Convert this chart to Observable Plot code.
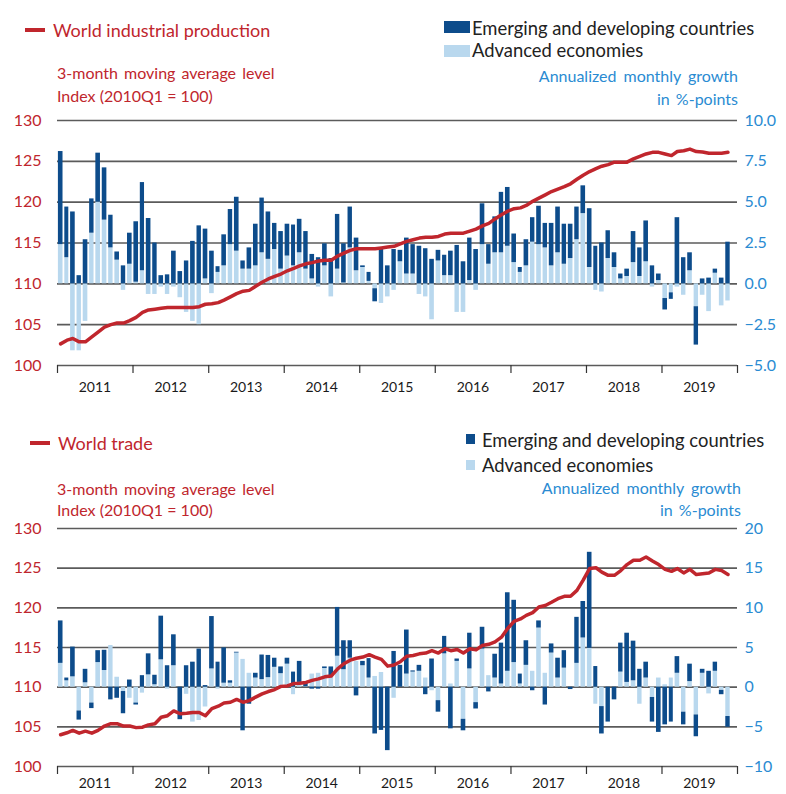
<!DOCTYPE html>
<html><head><meta charset="utf-8">
<script src="https://cdn.jsdelivr.net/npm/d3@7"></script>
<script src="https://cdn.jsdelivr.net/npm/@observablehq/plot@0.6"></script>
<style>
body{margin:0;background:#fff;}
#wrap{position:relative;width:786px;height:794px;font-family:Lato,"Noto Sans",sans-serif;overflow:hidden;}
.t{position:absolute;white-space:nowrap;line-height:20px;height:20px;}
.s{position:absolute;}
.p{position:absolute;left:0;}
</style></head><body><div id="wrap"></div>
<script>
// ---------- DATA ----------
const years = [2011, 2012, 2013, 2014, 2015, 2016, 2017, 2018, 2019];
const seriesNames = ["Advanced economies", "Emerging and developing countries"];

// World industrial production: annualized monthly growth contributions (%-points), Jan 2011 – Nov 2019
const ipAdvanced = [2.4,1.6,-4.1,-4.1,-2.3,3.1,5.0,3.9,2.2,1.45,-0.4,1.2,
0.1,0.8,-0.65,-0.65,-0.2,-0.65,-0.2,-0.85,-1.75,-2.3,-2.5,0.3,
-0.6,0.7,1.1,2.4,2.0,0.9,0.9,1.1,1.9,1.5,2.1,0.9,
1.7,1.1,1.9,0.9,0.3,-0.2,1.1,-0.8,0.9,0.05,2.2,0.8,
1.0,0.15,-0.3,-1.2,-0.8,-0.4,1.35,0.6,0.6,-0.65,-0.8,-2.2,
1.4,0.5,0.5,-1.75,-1.75,0.2,-0.4,2.4,1.2,1.9,1.9,2.3,
1.3,0.7,1.1,2.55,2.4,2.2,1.1,1.9,1.2,1.55,2.7,4.3,
1.0,-0.4,-0.5,1.55,1.0,0.3,0.45,1.3,0.45,1.35,-0.2,0.2,
-0.9,-0.55,-0.2,-0.7,0.8,-1.4,-0.7,-1.7,0.65,-1.35,-1.05];
const ipEmerging = [5.7,3.1,4.4,0.5,2.7,2.1,3.0,3.2,2.0,0.5,1.1,1.9,
3.7,5.4,4.0,2.5,0.5,0.55,2.0,0.75,1.4,2.6,3.55,3.05,
2.0,0.35,1.9,2.15,3.3,0.5,1.3,2.55,3.35,2.9,1.6,2.3,
1.95,2.5,2.05,2.3,1.5,1.6,1.35,1.55,3.35,2.4,2.5,2.0,
0.1,0.55,-0.8,2.2,1.1,2.1,0.7,2.2,1.8,2.3,2.15,1.5,
0.65,1.25,1.5,2.35,1.35,2.6,2.1,2.5,1.2,2.2,3.7,3.6,
1.75,0.3,1.6,1.5,2.35,1.5,2.6,2.8,2.45,2.1,2.0,1.7,
3.6,2.3,2.5,1.7,0.9,0.3,0.45,1.9,1.75,2.5,1.1,0.4,
-0.7,-0.4,4.05,1.6,1.1,-2.35,0.3,0.35,0.25,0.35,2.55];
// 3-month moving average level, index 2010Q1 = 100
const ipLevel = [102.65,103.1,103.3,102.9,102.9,103.5,104.1,104.7,105.0,105.2,105.2,105.5,
105.9,106.5,106.8,106.9,107.0,107.1,107.1,107.1,107.1,107.1,107.2,107.5,
107.55,107.7,108.0,108.4,108.8,109.1,109.2,109.7,110.2,110.6,110.9,111.2,
111.6,111.9,112.2,112.45,112.6,112.8,112.9,112.9,113.4,113.75,114.1,114.3,
114.3,114.3,114.3,114.4,114.5,114.6,114.9,115.2,115.4,115.6,115.7,115.7,
115.8,116.1,116.2,116.2,116.2,116.45,116.7,117.1,117.4,117.95,118.45,118.9,
119.2,119.3,119.6,120.1,120.5,120.9,121.3,121.6,121.9,122.25,122.8,123.3,
123.75,124.1,124.4,124.6,124.9,124.9,124.9,125.3,125.6,125.9,126.1,126.1,
125.9,125.7,126.2,126.3,126.5,126.2,126.15,126.0,126.0,126.0,126.1];

// World trade
const trAdvanced = [3.0,0.8,1.3,-3.0,0.55,-2.0,3.1,2.1,5.25,1.25,-0.55,-1.4,
-2.0,-0.75,1.55,0.3,3.45,-0.25,2.7,0,-0.9,-4.4,-4.2,-2.5,
2.3,-0.25,0.5,0.5,4.3,3.5,1.75,1.15,0.95,1.2,2.5,1.7,
2.9,-0.95,0.6,0.05,1.65,1.75,2.35,1.35,3.9,2.2,3.65,3.25,
2.7,1.15,1.35,1.85,0,-1.4,0,1.65,1.9,2.0,1.15,-0.45,
-1.7,4.2,0.4,3.25,-4.05,2.3,-1.95,4.8,1.45,1.15,0.4,2.0,
3.1,0.4,2.75,2.0,7.45,1.75,4.3,1.15,2.4,0,3.0,6.2,
4.9,-2.15,-2.45,0,0,1.9,0.6,0.8,-2.15,1.15,-1.3,1.15,
0.3,1.15,1.75,-3.15,0.7,-3.5,1.75,-0.85,2.0,-0.4,-3.7];
const trEmerging = [5.35,0.35,3.75,-1.15,1.7,-0.7,1.5,2.55,-1.6,-1.4,-2.8,0.9,
-0.25,1.45,2.65,1.2,5.5,2.7,3.9,-4.1,2.7,3.15,4.8,0.2,
6.6,3.15,4.45,0.3,0.1,-5.5,-2.15,0.6,3.1,2.8,1.15,0.85,
0.75,1.9,2.65,0.6,-0.25,-0.25,0.2,1.2,6.15,3.65,2.2,-1.1,
0.55,2.45,-5.9,-5.45,-8.0,4.5,2.75,5.55,0.15,0.75,-0.95,3.55,
-1.45,2.2,-5.25,0.3,-1.45,4.5,-0.8,2.75,-0.6,3.0,5.15,9.9,
7.85,1.25,3.1,-0.45,0.9,-2.25,1.15,2.5,2.2,-0.3,5.8,4.6,
12.1,2.6,-3.45,-4.4,-1.6,3.65,6.2,5.0,2.25,2.0,-3.1,-5.7,
-4.75,-4.4,2.1,-1.6,2.2,-2.75,0.5,2.0,1.15,-0.55,-1.35];
const trLevel = [104.0,104.25,104.55,104.2,104.45,104.2,104.55,105.1,105.4,105.4,105.1,105.1,
104.9,104.95,105.25,105.4,106.2,106.4,107.0,106.65,106.7,106.8,106.8,106.4,
107.3,107.6,108.0,108.1,108.45,108.1,108.3,108.75,109.15,109.45,109.7,110.1,
110.15,110.45,110.5,110.6,110.85,111.05,111.3,111.4,112.3,112.95,113.4,113.65,
113.8,114.1,113.8,113.5,112.65,112.8,113.2,113.9,114.0,114.2,114.3,114.6,
114.3,114.85,114.6,114.75,114.3,114.85,114.7,115.25,115.4,115.7,116.3,117.4,
118.3,118.6,119.05,119.4,120.1,120.3,120.7,121.15,121.45,121.45,122.2,123.5,
124.95,125.05,124.5,124.1,124.1,124.7,125.45,126.0,126.0,126.4,125.9,125.45,
124.85,124.6,124.95,124.4,124.85,124.2,124.3,124.4,124.85,124.7,124.2];

const ipTicks = [-5, -2.5, 0, 2.5, 5, 7.5, 10];
const trTicks = [-10, -5, 0, 5, 10, 15, 20];

// ---------- STYLE ----------
const RED = "#c0262d", BLUE = "#2a8bd2", DARK = "#0d4c8b", LIGHT = "#b9d8ee";
const FONT = "Lato, 'Noto Sans', sans-serif";
const wrap = document.getElementById("wrap");

const start = new Date(Date.UTC(2011, 0, 1));
const monthDate = i => d3.utcMonth.offset(start, i);
const yearStarts = d3.range(years.length + 1).map(i => new Date(Date.UTC(years[0] + i, 0, 1)));
const midYears = years.map(y => new Date(Date.UTC(y, 6, 1)));

function buildBars(adv, eme) {
  return [
    ...adv.map((v, i) => ({date: monthDate(i), value: v, series: seriesNames[0]})),
    ...eme.map((v, i) => ({date: monthDate(i), value: v, series: seriesNames[1]}))
  ];
}
function buildLine(level) {
  return level.map((v, i) => ({date: d3.utcDay.offset(monthDate(i), 15), value: v}));
}

function text(txt, x, yc, size, color, align, ws) {
  const d = document.createElement("div");
  d.className = "t";
  d.textContent = txt;
  d.style.fontSize = size + "px";
  d.style.color = color;
  if (ws) d.style.wordSpacing = ws + "px";
  d.style.top = (yc - 10) + "px";
  if (align === "right") d.style.right = (786 - x) + "px"; else d.style.left = x + "px";
  wrap.appendChild(d);
}
function swatch(x, y, w, h, color) {
  const d = document.createElement("div");
  d.className = "s";
  Object.assign(d.style, {left: x + "px", top: y + "px", width: w + "px", height: h + "px", background: color});
  wrap.appendChild(d);
}

function panel({adv, eme, level, ticks, toRight, rightFmt, leftFmt, top, marginTop, marginBottom, xPad}) {
  const chart = Plot.plot({
    width: 786, height: 397,
    marginLeft: 57, marginRight: 49, marginTop, marginBottom,
    style: {fontFamily: FONT, fontSize: "16px", background: "white"},
    x: {type: "utc", domain: [yearStarts[0], yearStarts[yearStarts.length - 1]], label: null},
    y: {domain: [ticks[0], ticks[ticks.length - 1]], label: null},
    color: {domain: seriesNames, range: [LIGHT, DARK]},
    marks: [
      Plot.ruleY(ticks, {stroke: "#5b5b5b", strokeWidth: 1.6}),
      Plot.rectY(buildBars(adv, eme), {x: "date", interval: "month", y: "value", fill: "series", insetLeft: 0.9, insetRight: 0.9}),
      Plot.lineY(buildLine(level), {x: "date", y: d => toRight(d.value), stroke: RED, strokeWidth: 3.5, curve: "linear"}),
      Plot.axisY(ticks, {anchor: "left", tickSize: 0, tickPadding: 16, tickFormat: leftFmt, color: RED, fontSize: 16}),
      Plot.axisY(ticks, {anchor: "right", tickSize: 0, tickPadding: 7, tickFormat: rightFmt, color: BLUE, fontSize: 16}),
      Plot.axisX(yearStarts, {tickSize: 8, tickFormat: () => "", stroke: "#333", strokeWidth: 1.2}),
      Plot.axisX(midYears, {tickSize: 0, tickPadding: xPad, tickFormat: d => String(d.getUTCFullYear()), fontSize: 14, color: "#1a1a1a"})
    ]
  });
  const holder = document.createElement("div");
  holder.className = "p";
  holder.style.top = top + "px";
  holder.appendChild(chart);
  wrap.appendChild(holder);
}

// ---------- PANEL 1 ----------
panel({
  adv: ipAdvanced, eme: ipEmerging, level: ipLevel, ticks: ipTicks,
  toRight: v => (v - 110) / 2,
  rightFmt: d3.format(".1f"), leftFmt: d => String(110 + 2 * d),
  top: 0, marginTop: 120, marginBottom: 32, xPad: 17
});
swatch(25, 28, 20, 4, RED);
text("World industrial production", 53, 30, 18, RED);
swatch(444, 21, 26, 12, DARK);
text("Emerging and developing countries", 472, 28, 18.4, "#222");
swatch(444, 45, 26, 12, LIGHT);
text("Advanced economies", 472, 50, 18.4, "#222");
text("3-month moving average level", 57, 73, 16, RED, null, 2);
text("Index (2010Q1 = 100)", 57, 96, 16, RED);
text("Annualized monthly growth", 738, 76, 16, BLUE, "right", 3);
text("in %-points", 738, 99, 16, BLUE, "right", 2);

// ---------- PANEL 2 ----------
panel({
  adv: trAdvanced, eme: trEmerging, level: trLevel, ticks: trTicks,
  toRight: v => v - 110,
  rightFmt: d3.format("d"), leftFmt: d => String(110 + d),
  top: 397, marginTop: 131, marginBottom: 28, xPad: 12
});
swatch(30, 441, 20, 4, RED);
text("World trade", 58, 443, 18, RED);
swatch(466, 434, 9, 10, DARK);
text("Emerging and developing countries", 482, 440, 18.4, "#222");
swatch(466, 460, 9, 10, LIGHT);
text("Advanced economies", 482, 465, 18.4, "#222");
text("3-month moving average level", 57, 489, 16, RED, null, 2);
text("Index (2010Q1 = 100)", 57, 510, 16, RED);
text("Annualized monthly growth", 741, 488, 16, BLUE, "right", 3);
text("in %-points", 741, 510, 16, BLUE, "right", 2);
</script>
</body></html>
